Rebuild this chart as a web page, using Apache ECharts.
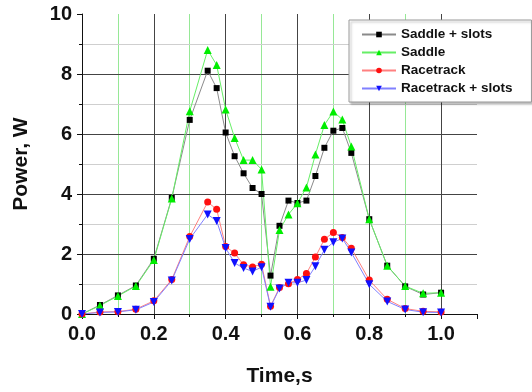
<!DOCTYPE html>
<html>
<head>
<meta charset="utf-8">
<script src="https://cdn.jsdelivr.net/npm/echarts@6/dist/echarts.min.js"></script>
<style>
  html, body { margin: 0; padding: 0; background: #fff; }
  #chart { width: 532px; height: 392px; }
</style>
</head>
<body>
<div id="chart"></div>
<script>
// time (s) of every sample
const TIME = [0, 0.05, 0.1, 0.15, 0.2, 0.25, 0.3, 0.35, 0.375, 0.4, 0.425, 0.45, 0.475, 0.5,
  0.525, 0.55, 0.575, 0.6, 0.625, 0.65, 0.675, 0.7, 0.725, 0.75, 0.8, 0.85, 0.9, 0.95, 1.0];

// power (W)
const SADDLE_SLOTS = [0, 0.3, 0.62, 0.95, 1.84, 3.87, 6.47, 8.11, 7.53, 6.05, 5.26, 4.69, 4.2, 4.0,
  1.28, 2.94, 3.78, 3.7, 3.78, 4.6, 5.54, 6.11, 6.2, 5.37, 3.16, 1.61, 0.92, 0.65, 0.71];
const SADDLE = [0, 0.28, 0.6, 0.93, 1.8, 3.85, 6.76, 8.8, 8.3, 6.82, 5.87, 5.13, 5.13, 4.82,
  0.91, 2.8, 3.32, 3.69, 4.22, 5.32, 6.3, 6.75, 6.48, 5.58, 3.16, 1.61, 0.93, 0.69, 0.71];
const RACETRACK = [0, 0.07, 0.08, 0.16, 0.44, 1.15, 2.58, 3.73, 3.49, 2.25, 2.03, 1.64, 1.57, 1.66,
  0.26, 0.88, 1.01, 1.15, 1.35, 1.9, 2.49, 2.72, 2.55, 2.19, 1.13, 0.49, 0.18, 0.09, 0.07];
const RACETRACK_SLOTS = [0, 0.05, 0.07, 0.14, 0.4, 1.12, 2.5, 3.32, 3.1, 2.2, 1.7, 1.53, 1.42, 1.56,
  0.24, 0.85, 1.04, 1.04, 1.13, 1.59, 2.14, 2.39, 2.52, 2.05, 0.99, 0.42, 0.15, 0.06, 0.05];

const NAMES = ['Saddle + slots', 'Saddle', 'Racetrack', 'Racetrack + slots'];

const FONT = '"Liberation Sans", Arial, sans-serif';

const pairs = ys => TIME.map((t, i) => [t, ys[i]]);

function lineSeries(name, ys, color, lineColor, symbol, size, rotate) {
  return {
    name,
    type: 'line',
    xAxisIndex: 1,
    data: pairs(ys),
    symbol,
    symbolSize: size,
    symbolRotate: rotate || 0,
    itemStyle: { color },
    lineStyle: { color: lineColor, width: 1 },
    z: 3,
  };
}

const chart = echarts.init(document.getElementById('chart'), null, { renderer: 'canvas' });

chart.setOption({
  animation: false,
  textStyle: { fontFamily: FONT },
  grid: { left: 82, right: 55, top: 14, bottom: 74 },
  legend: {
    data: NAMES,
    orient: 'vertical',
    left: 349,
    top: 20,
    padding: [7, 19, 6, 12],
    itemWidth: 34,
    itemHeight: 7,
    itemGap: 3,
    backgroundColor: '#fff',
    borderColor: '#999',
    borderWidth: 1,
    shadowColor: 'rgba(0,0,0,0.25)',
    shadowBlur: 2,
    shadowOffsetX: 2,
    shadowOffsetY: 2,
    textStyle: { fontFamily: FONT, fontWeight: 'bold', fontSize: 13.5, lineHeight: 15, color: '#111' },
  },
  xAxis: [
    {
      // only the light green lines every 0.1 s, kept under the main grid
      type: 'value',
      position: 'bottom',
      z: 0,
      min: 0,
      max: 1.1,
      interval: 0.1,
      axisLine: { show: false },
      axisTick: { show: false },
      axisLabel: { show: false },
      splitLine: { show: true, showMinLine: false, showMaxLine: false, lineStyle: { color: '#96e896', width: 1 } },
    },
    {
      type: 'value',
      position: 'bottom',
      z: 1,
      min: 0,
      max: 1.1,
      interval: 0.2,
      name: 'Time,s',
      nameLocation: 'middle',
      nameGap: 52,
      nameTextStyle: { fontFamily: FONT, fontWeight: 'bold', fontSize: 21, color: '#111' },
      axisLine: { lineStyle: { color: '#111', width: 1 } },
      axisTick: { length: 5, lineStyle: { color: '#111' } },
      minorTick: { show: true, splitNumber: 2, length: 3, lineStyle: { color: '#111' } },
      axisLabel: {
        fontFamily: FONT, fontWeight: 'bold', fontSize: 20, color: '#111', margin: 10,
        showMaxLabel: false,
        formatter: v => v.toFixed(1),
      },
      splitLine: { show: true, showMinLine: false, showMaxLine: false, lineStyle: { color: '#444', width: 1 } },
    },
  ],
  yAxis: {
    type: 'value',
    z: 1,
    min: 0,
    max: 10,
    interval: 2,
    name: 'Power, W',
    nameLocation: 'middle',
    nameGap: 50,
    nameTextStyle: { fontFamily: FONT, fontWeight: 'bold', fontSize: 21, color: '#111' },
    axisLine: { show: true, lineStyle: { color: '#111', width: 1 } },
    axisTick: { show: true, length: 5, lineStyle: { color: '#111' } },
    minorTick: { show: true, splitNumber: 2, length: 3, lineStyle: { color: '#111' } },
    axisLabel: { fontFamily: FONT, fontWeight: 'bold', fontSize: 20, color: '#111', margin: 10 },
    splitLine: { show: true, showMinLine: false, showMaxLine: false, lineStyle: { color: '#444', width: 1 } },
    minorSplitLine: { show: true, lineStyle: { color: '#cfcfcf', width: 1 } },
  },
  series: [
    lineSeries(NAMES[0], SADDLE_SLOTS, '#000', '#8a8a8a', 'rect', 6),
    lineSeries(NAMES[1], SADDLE, '#00ee00', '#66ee66', 'triangle', 8),
    lineSeries(NAMES[2], RACETRACK, '#ff1010', '#ff8080', 'circle', 7),
    lineSeries(NAMES[3], RACETRACK_SLOTS, '#1010ff', '#8080ff', 'triangle', 8, 180),
  ],
});
</script>
</body>
</html>
